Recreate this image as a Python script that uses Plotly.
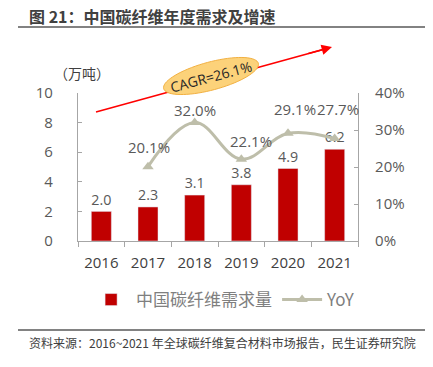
import math
import plotly.graph_objects as go

years = ["2016", "2017", "2018", "2019", "2020", "2021"]
demand = [2.0, 2.3, 3.1, 3.8, 4.9, 6.2]
yoy_years = ["2017", "2018", "2019", "2020", "2021"]
yoy = [0.201, 0.320, 0.221, 0.291, 0.277]
bar_name = "中国碳纤维需求量"
line_name = "YoY"
title_text = "图 21：中国碳纤维年度需求及增速"
unit_text = "（万吨）"
cagr_text = "CAGR=26.1%"
source_text = "资料来源：2016~2021 年全球碳纤维复合材料市场报告，民生证券研究院"

W, H = 433, 367
L, R, T, B = 78, 75, 93, 126
PW, PH = W - L - R, H - T - B


def px(x):
    return (x - L) / PW


def py(y):
    return (H - B - y) / PH


FONT = "Open Sans, Noto Sans CJK SC, sans-serif"
CJK = "Noto Sans CJK SC, sans-serif"
GRAY = "#595959"
AX = "#A6A6A6"
LINE_C = "#BEBEAA"

fig = go.Figure()
fig.add_trace(go.Bar(
    x=years, y=demand, name=bar_name, marker_color="#C00000",
    text=[f"{v:.1f}" for v in demand], textposition="outside",
    textfont=dict(size=15, color=GRAY, family=FONT), cliponaxis=False,
))
fig.add_trace(go.Scatter(
    x=yoy_years, y=yoy, name=line_name, yaxis="y2", mode="lines+markers",
    line=dict(color=LINE_C, width=3, shape="spline", smoothing=1.1),
    marker=dict(symbol="triangle-up", size=10, color=LINE_C),
))

# YoY labels (category index positions)
shifts = [(1, 20), (0, 13), (10, 18), (7, 24), (3, 30)]
annotations = []
for yr, v, (dx, dy) in zip(yoy_years, yoy, shifts):
    annotations.append(dict(
        x=years.index(yr), y=v, xref="x", yref="y2", text=f"{v*100:.1f}%", showarrow=False,
        xshift=dx, yshift=dy, font=dict(size=15, color=GRAY, family=FONT),
    ))

# title / unit / source
annotations += [
    dict(x=px(27), y=py(16), xref="paper", yref="paper", xanchor="left", yanchor="middle",
         text=f"<b>{title_text}</b>", showarrow=False, font=dict(size=16, color="#404040", family=CJK)),
    dict(x=px(82), y=py(73), xref="paper", yref="paper", xanchor="center", yanchor="middle",
         text=unit_text, showarrow=False, font=dict(size=14, color="#404040", family=CJK)),
    dict(x=px(27), y=py(342), xref="paper", yref="paper", xanchor="left", yanchor="middle",
         text=source_text, showarrow=False, font=dict(size=12, color="#404040", family=CJK)),
]

# arrow
x0a, y0a, x1a, y1a = 96, 112, 332, 47
dxv, dyv = x1a - x0a, y1a - y0a
ln = math.hypot(dxv, dyv)
ux, uy = dxv / ln, dyv / ln
annotations.append(dict(
    x=px(x1a), y=py(y1a), xref="paper", yref="paper", ax=-ux * 26, ay=-uy * 26,
    axref="pixel", ayref="pixel", showarrow=True, arrowhead=2, arrowsize=1.3,
    arrowwidth=1.6, arrowcolor="#FF0000", text="",
))

# CAGR label
cx, cy, a, b, ang = 211, 76, 49, 14, math.radians(15)
annotations.append(dict(
    x=px(cx), y=py(cy), xref="paper", yref="paper", text=cagr_text, showarrow=False,
    xanchor="center", yanchor="middle",
    textangle=-15, font=dict(size=14, color="#262626", family=FONT),
))

pts = []
for i in range(73):
    t = 2 * math.pi * i / 72
    X = cx + a * math.cos(t) * math.cos(ang) + b * math.sin(t) * math.sin(ang)
    Y = cy - a * math.cos(t) * math.sin(ang) + b * math.sin(t) * math.cos(ang)
    pts.append(f"{px(X):.5f},{py(Y):.5f}")
ell_path = "M" + " L".join(pts) + " Z"

shapes = [
    dict(type="line", xref="paper", yref="paper", x0=px(18), x1=px(425), y0=py(27), y1=py(27),
         line=dict(color="#595959", width=1.5)),
    dict(type="line", xref="paper", yref="paper", x0=px(18), x1=px(425), y0=py(330), y1=py(330),
         line=dict(color="#595959", width=1.5)),
    dict(type="line", xref="paper", yref="paper", x0=px(x0a), y0=py(y0a),
         x1=px(x1a - ux * 10), y1=py(y1a - uy * 10), line=dict(color="#FF0000", width=1.6)),
    dict(type="path", xref="paper", yref="paper", path=ell_path,
         fillcolor="#FCD27A", line=dict(color="#F2B040", width=1)),
]

fig.update_layout(
    width=W, height=H, margin=dict(l=L, r=R, t=T, b=B, autoexpand=False),
    paper_bgcolor="white", plot_bgcolor="white",
    bargap=0.57, showlegend=True,
    legend=dict(orientation="h", x=0.52, xanchor="center", y=py(300), yanchor="middle",
                font=dict(size=17, color="#7F7F7F", family=CJK), itemwidth=40,
                traceorder="normal"),
    xaxis=dict(type="category", range=[-0.5, 5.5], showline=True, linecolor=AX, linewidth=1.2,
               ticks="outside", tickson="boundaries", ticklen=5, tickcolor=AX,
               tickfont=dict(size=15, color="#404040", family=FONT), showgrid=False,
               ticklabelstandoff=8),
    yaxis=dict(range=[0, 10], dtick=2, showline=True, linecolor=AX, linewidth=1.2,
               ticks="inside", ticklen=4, tickcolor=AX, showgrid=False, zeroline=False,
               tickfont=dict(size=15, color=GRAY, family=FONT), ticklabelstandoff=21),
    yaxis2=dict(range=[0, 0.4], dtick=0.1, tickformat=".0%", overlaying="y", side="right",
                showline=True, linecolor=AX, linewidth=1.2, ticks="inside", ticklen=4,
                tickcolor=AX, showgrid=False, zeroline=False,
                tickfont=dict(size=15, color=GRAY, family=FONT), ticklabelstandoff=13),
    annotations=annotations, shapes=shapes,
)

fig.write_html("out.html", post_script="document.body.style.margin='0';",
               config={"displayModeBar": False})
